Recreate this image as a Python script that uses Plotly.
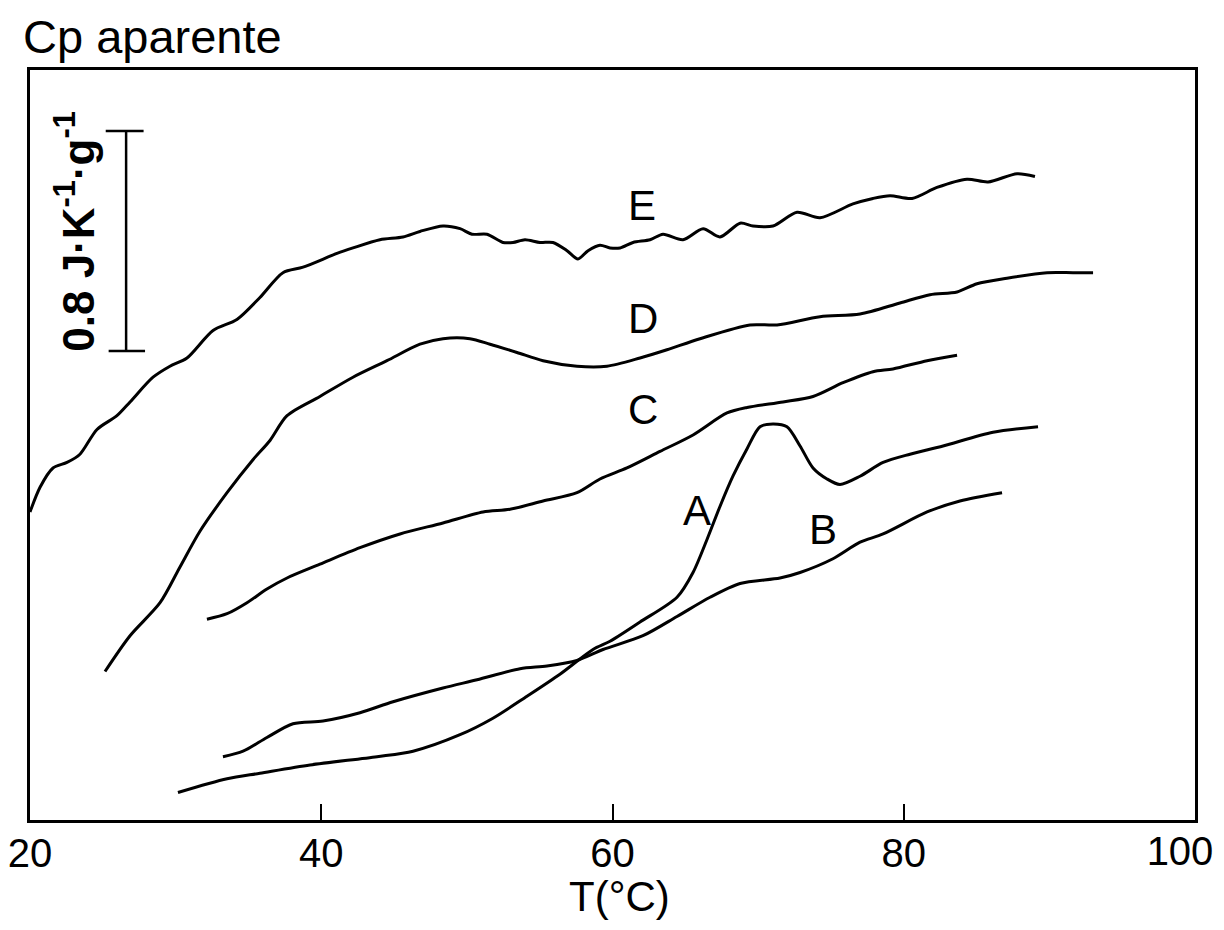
import plotly.graph_objects as go

# ---- data (T in °C, apparent Cp in J·K^-1·g^-1, arbitrary common offset) ----
E_T = [20.0, 20.69, 21.58, 22.54, 23.43, 24.60, 25.97, 26.87, 28.45, 29.61, 30.78, 32.57, 34.21,
       35.79, 37.37, 38.75, 41.08, 42.18, 44.03, 45.61, 46.78, 48.36, 49.53, 50.35, 51.38, 52.48,
       53.17, 53.99, 55.02, 55.91, 56.88, 57.63, 58.32, 59.14, 59.83, 60.52, 61.41, 62.58, 63.47,
       64.84, 66.22, 67.38, 68.76, 69.65, 71.02, 72.67, 74.25, 76.51, 77.89, 79.06, 80.57, 82.28,
       84.34, 85.79, 87.78, 89.01]
E_Cp = [1.12, 1.21, 1.28, 1.30, 1.33, 1.42, 1.47, 1.52, 1.61, 1.65, 1.68, 1.78, 1.82,
        1.90, 1.99, 2.01, 2.06, 2.08, 2.11, 2.12, 2.14, 2.16, 2.15, 2.13, 2.13, 2.10,
        2.10, 2.11, 2.10, 2.10, 2.07, 2.04, 2.07, 2.09, 2.08, 2.08, 2.10, 2.11, 2.13,
        2.11, 2.15, 2.12, 2.17, 2.16, 2.16, 2.21, 2.19, 2.24, 2.26, 2.27, 2.26, 2.30,
        2.33, 2.32, 2.35, 2.34]

D_T = [25.15, 26.87, 28.93, 30.30, 31.67, 33.53, 35.31, 36.48, 37.65, 39.91, 42.18, 44.51, 46.78,
       48.36, 50.21, 51.59, 53.44, 55.23, 57.56, 59.62, 61.89, 63.74, 66.01, 69.44, 71.30, 74.25,
       77.00, 79.74, 81.80, 83.66, 85.03, 87.09, 89.84, 91.62, 93.00]
D_Cp = [0.54, 0.67, 0.79, 0.92, 1.05, 1.19, 1.31, 1.38, 1.47, 1.54, 1.61, 1.67, 1.73,
        1.75, 1.75, 1.73, 1.70, 1.67, 1.65, 1.65, 1.68, 1.71, 1.75, 1.80, 1.80, 1.83,
        1.84, 1.88, 1.91, 1.92, 1.95, 1.97, 1.99, 1.99, 1.99]

C_T = [32.15, 33.53, 34.90, 36.27, 37.65, 39.91, 42.66, 45.41, 48.36, 51.11, 52.96, 55.23, 57.56,
       59.14, 60.99, 63.26, 65.53, 67.86, 69.24, 71.71, 73.77, 75.83, 77.89, 79.26, 81.60, 83.66]
C_Cp = [0.73, 0.75, 0.79, 0.84, 0.88, 0.93, 0.99, 1.04, 1.08, 1.12, 1.13, 1.16, 1.19,
        1.24, 1.28, 1.34, 1.40, 1.48, 1.50, 1.52, 1.54, 1.59, 1.63, 1.64, 1.67, 1.69]

B_T = [33.25, 34.63, 36.27, 38.06, 40.12, 42.66, 44.93, 48.36, 50.70, 53.65, 55.50, 57.56, 59.35,
       62.09, 64.43, 66.70, 68.76, 71.50, 72.88, 75.14, 77.00, 78.58, 81.60, 83.86, 86.75]
B_Cp = [0.23, 0.25, 0.30, 0.35, 0.36, 0.39, 0.43, 0.48, 0.51, 0.55, 0.56, 0.58, 0.62,
        0.67, 0.74, 0.81, 0.86, 0.88, 0.90, 0.95, 1.01, 1.04, 1.12, 1.16, 1.19]

A_T = [30.16, 33.53, 35.79, 39.23, 43.83, 46.30, 49.53, 51.79, 54.13, 56.39, 58.66, 59.83, 61.89,
       64.43, 65.53, 66.49, 67.38, 68.27, 69.24, 70.13, 71.02, 71.98, 72.88, 73.77, 74.73, 75.62,
       77.00, 78.58, 80.43, 82.70, 86.13, 89.22]
A_Cp = [0.10, 0.15, 0.17, 0.20, 0.23, 0.25, 0.31, 0.37, 0.45, 0.53, 0.62, 0.65, 0.72,
        0.81, 0.90, 1.02, 1.14, 1.25, 1.35, 1.43, 1.44, 1.43, 1.36, 1.28, 1.24, 1.22,
        1.25, 1.30, 1.33, 1.36, 1.41, 1.43]

# (name, T, Cp, x-axis) – both x axes share the same 20–100 °C range
series = [("A", A_T, A_Cp, "x"), ("B", B_T, B_Cp, "x"), ("C", C_T, C_Cp, "x"),
          ("D", D_T, D_Cp, "x"), ("E", E_T, E_Cp, "x2")]

# curve label positions (T, Cp)
label_names = ["E", "D", "C", "A", "B"]
label_T = [62.0, 62.1, 62.1, 65.8, 74.45]
label_Cp = [2.236, 1.825, 1.491, 1.124, 1.055]

x_ticks = [20, 40, 60, 80, 100]
x_ticktext = ["20", "40", "60", "80", "100"]
scale_value = 0.8          # J·K^-1·g^-1 scale bar
scale_base = 1.705
scale_T = 26.6

FONT = "Liberation Sans, Arial, sans-serif"

fig = go.Figure()
for name, t, cp, xa in series:
    fig.add_trace(go.Scatter(x=t, y=cp, mode="lines", name=name, xaxis=xa, yaxis="y",
                             line=dict(color="black", width=3, shape="spline", smoothing=0.8),
                             showlegend=False, hoverinfo="skip"))

# scale bar
fig.add_shape(type="line", x0=scale_T, x1=scale_T, y0=scale_base, y1=scale_base + scale_value,
              line=dict(color="black", width=2.5))
fig.add_shape(type="line", x0=scale_T - 1.4, x1=scale_T + 1.2, y0=scale_base + scale_value,
              y1=scale_base + scale_value, line=dict(color="black", width=2.5))
fig.add_shape(type="line", x0=scale_T - 1.2, x1=scale_T + 1.3, y0=scale_base, y1=scale_base,
              line=dict(color="black", width=2.5))
fig.add_annotation(x=23.05, y=scale_base - 0.01, xref="x", yref="y", xanchor="center", yanchor="bottom",
                   text="<b>0.8 J·K<sup>-1</sup>·g<sup>-1</sup></b>", textangle=-90, showarrow=False,
                   font=dict(family=FONT, size=44, color="black"))

for n, t, cp in zip(label_names, label_T, label_Cp):
    fig.add_annotation(x=t, y=cp, text=n, showarrow=False, xanchor="center", yanchor="middle",
                       font=dict(family=FONT, size=42, color="black"))

# title and axis title
fig.add_annotation(x=-0.008, y=1.044, xref="paper", yref="paper", xanchor="left", yanchor="middle",
                   text="Cp aparente", showarrow=False,
                   font=dict(family=FONT, size=47, color="black"))
fig.add_annotation(x=0.506, y=-0.102, xref="paper", yref="paper", xanchor="center", yanchor="middle",
                   text="T(°C)", showarrow=False,
                   font=dict(family=FONT, size=42, color="black"))

common_x = dict(range=[20, 100], showgrid=False, zeroline=False, automargin=False,
                ticklabeloverflow="allow",
                tickfont=dict(family=FONT, size=40, color="black"))

fig.update_layout(
    width=1216, height=914,
    margin=dict(l=22, r=29, t=62, b=102, autoexpand=False),
    paper_bgcolor="white", plot_bgcolor="white",
    xaxis=dict(tickvals=x_ticks, ticktext=x_ticktext[:-1] + [""], ticklabelstandoff=-4,
               ticks="inside", ticklen=16, tickwidth=2, tickcolor="black",
               showline=True, linecolor="black", linewidth=3, mirror=True, **common_x),
    # last tick label drawn by the overlaying axis so it can be nudged inside the page
    xaxis2=dict(overlaying="x", anchor="y", side="bottom", tickvals=x_ticks[-1:],
                ticktext=x_ticktext[-1:], ticks="", showline=False, ticklabelshift=-15,
                ticklabelstandoff=4, **common_x),
    yaxis=dict(range=[0, 2.727], showticklabels=False, ticks="",
               showline=True, linecolor="black", linewidth=3, mirror=True,
               showgrid=False, zeroline=False, automargin=False),
)

fig.write_html("out.html")
